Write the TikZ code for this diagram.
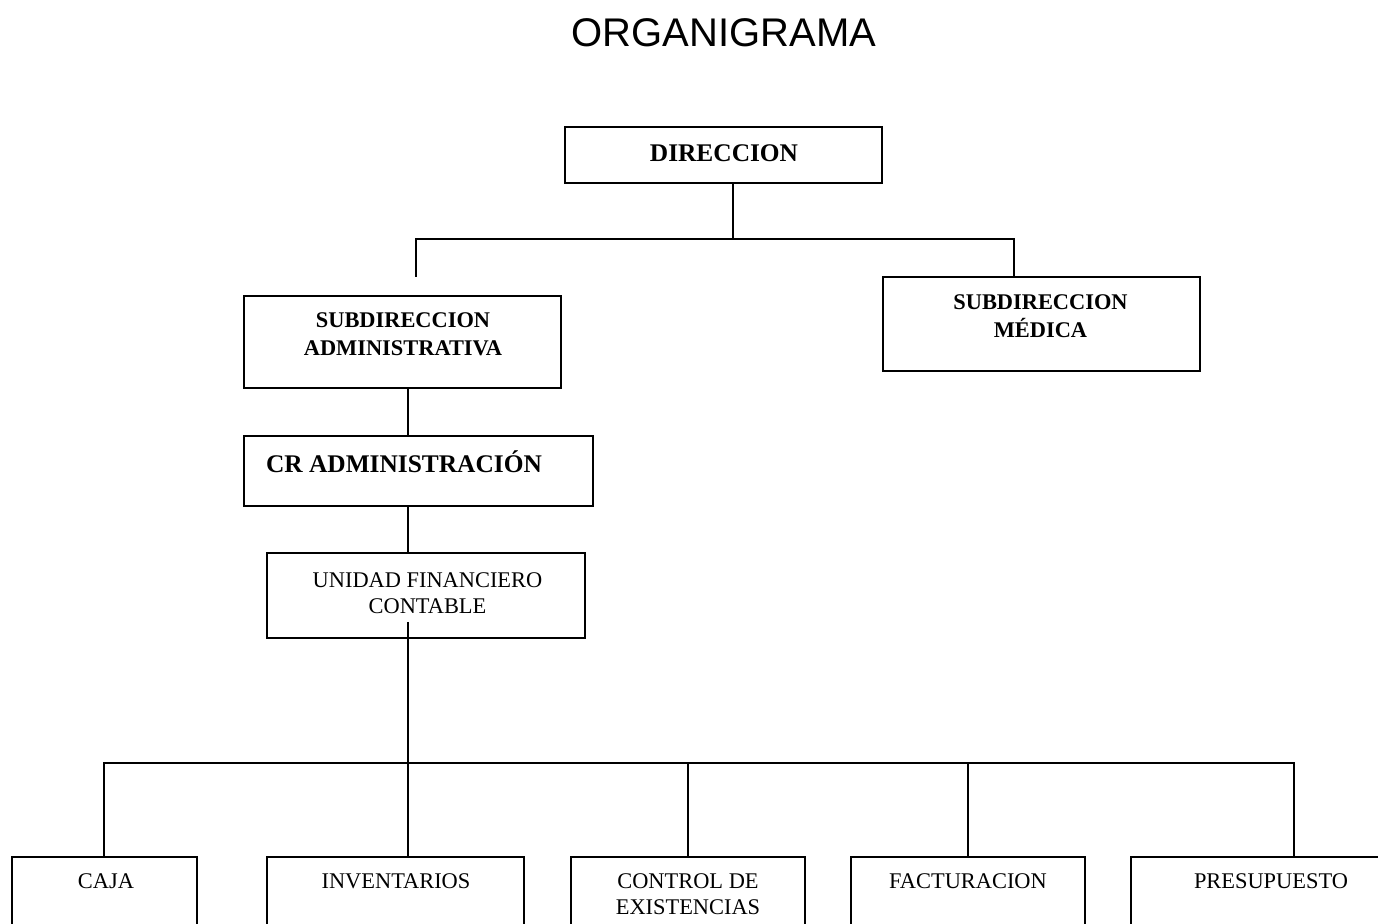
\documentclass[tikz,border=0pt]{standalone}
\usepackage{fontspec}
\setmainfont{Liberation Serif}
\newfontfamily\titulofont{Liberation Sans}
\usetikzlibrary{fit}
\begin{document}
\begin{tikzpicture}[x=.5pt, y=-.5pt, line width=1pt,
	caja/.style={draw, inner sep=0pt},
	jefe/.style={inner sep=0pt, anchor=base, font=\bfseries\fontsize{12.7}{15}\selectfont},
	sub/.style={inner sep=0pt, align=center, font=\bfseries\fontsize{11.2}{14}\selectfont},
	unidad/.style={inner sep=0pt, align=center, font=\fontsize{11.2}{13}\selectfont}]
	\clip (0,0) rectangle (1378,924);
	\node[inner sep=0pt, font=\titulofont\fontsize{20}{24}\selectfont] (titulo) at (724,32.5) {ORGANIGRAMA};
	% cajas superiores
	\node[caja, fit={(565,127) (882,183)}] (dir) {};
	\node[jefe] at (724,161.5) {DIRECCION};
	\node[caja, fit={(244,296) (561,388)}] (sadm) {};
	\node[sub] at (403,334) {SUBDIRECCION\\ADMINISTRATIVA};
	\node[caja, fit={(883,277) (1200,371)}] (smed) {};
	\node[sub] at (1040.5,316) {SUBDIRECCION\\MÉDICA};
	\node[caja, fit={(244,436) (593,506)}] (cradm) {};
	\node[jefe] at (404,472.7) {CR ADMINISTRACIÓN};
	\node[caja, fit={(267,553) (585,638)}] (ufc) {};
	\node[unidad] at (427.5,593) {UNIDAD FINANCIERO\\CONTABLE};
	% conectores
	\coordinate (d1) at (733,239);
	\coordinate (d2) at (1014,239);
	\coordinate (d3) at (416,277);
	\draw (dir.south -| d1) -- (d1);
	\draw (d3) |- (d2) -- (d2 |- smed.north);
	\coordinate (eje) at (408,622);
	\coordinate (bus) at (408,763);
	\draw (sadm.south -| eje) -- (cradm.north -| eje);
	\draw (cradm.south -| eje) -- (ufc.north -| eje);
	\draw (eje) -- (bus);
	% cajas inferiores
	\foreach \nom/\xa/\xb/\xv in {caja/12/197/104, inv/267/524/408, ctrl/571/805/688, fact/851/1085/968, pres/1131/1411/1294}{
		\node[caja, fit={(\xa,857) (\xb,940)}] (\nom) {};
		\coordinate (b\nom) at (\xv,763);
	}
	\draw (bcaja |- caja.north) |- (bpres) -- (bpres |- pres.north);
	\foreach \nom in {inv,ctrl,fact} \draw (b\nom) -- (b\nom |- \nom.north);
	\node[unidad, anchor=base] at (106,888.5) {CAJA};
	\node[unidad, anchor=base] at (396,888.5) {INVENTARIOS};
	\node[unidad] at (688,894) {CONTROL DE\\EXISTENCIAS};
	\node[unidad, anchor=base] at (968,888.5) {FACTURACION};
	\node[unidad, anchor=base] at (1271,888.5) {PRESUPUESTO};
\end{tikzpicture}
\end{document}
